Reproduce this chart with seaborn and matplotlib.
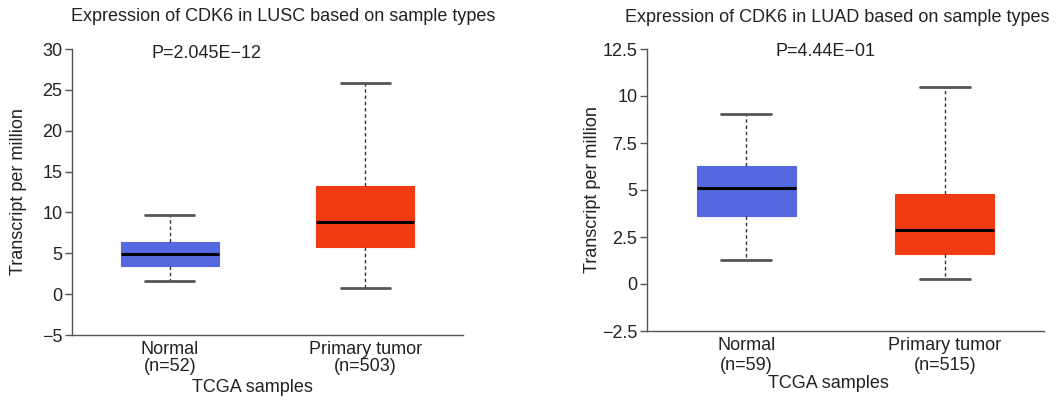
import matplotlib
matplotlib.use("Agg")
import matplotlib.pyplot as plt
import seaborn as sns
import pandas as pd

# ---- data (box summary: min, Q1, median, Q3, max) ----
groups = ["Normal", "Primary tumor"]
lusc_normal = [1.63, 3.50, 4.93, 6.33, 9.67]
lusc_tumor = [0.73, 5.75, 8.85, 13.26, 25.8]
luad_normal = [1.26, 3.63, 5.12, 6.26, 9.06]
luad_tumor = [0.27, 1.60, 2.85, 4.80, 10.49]
lusc_n = [52, 503]
luad_n = [59, 515]
lusc_title = "Expression of CDK6 in LUSC based on sample types"
luad_title = "Expression of CDK6 in LUAD based on sample types"
lusc_p = "P=2.045E\u221212"
luad_p = "P=4.44E\u221201"
lusc_yticks = [-5, 0, 5, 10, 15, 20, 25, 30]
lusc_yticklabels = ["\u22125", "0", "5", "10", "15", "20", "25", "30"]
luad_yticks = [-2.5, 0, 2.5, 5, 7.5, 10, 12.5]
luad_yticklabels = ["\u22122.5", "0", "2.5", "5", "7.5", "10", "12.5"]

sns.set_theme(style="ticks")
plt.rcParams["font.family"] = ["Liberation Sans", "DejaVu Sans"]
text_color = "#222222"
FS = 13

fig = plt.figure(figsize=(10.64, 4.01), dpi=100)
ax1 = fig.add_axes([72/1064, 1-335/401, (463-72)/1064, (335-49)/401])
ax2 = fig.add_axes([647/1064, 1-331/401, (1044-647)/1064, (331-49)/401])

palette = {"Normal": "#5468E0", "Primary tumor": "#F03A12"}


def draw(ax, normal, tumor, ns, title, ptxt, yticks, yticklabels, ylim,
         p_x, p_y, title_x, xlabel_x, xlabel_y, tick_ls):
    df = pd.DataFrame({
        "group": [groups[0]] * len(normal) + [groups[1]] * len(tumor),
        "tpm": list(normal) + list(tumor),
    })
    sns.boxplot(data=df, x="group", y="tpm", hue="group", palette=palette,
                order=groups, hue_order=groups, legend=False,
                whis=(0, 100), width=0.5, showfliers=False, ax=ax,
                linewidth=1.0, saturation=1,
                boxprops=dict(linewidth=0.8),
                medianprops=dict(color="black", linewidth=2.2),
                whiskerprops=dict(color="#333333", linewidth=1.0,
                                  linestyle=(0, (2.5, 2))),
                capprops=dict(color="#555555", linewidth=2.0))
    for patch, g in zip(ax.patches, groups):
        patch.set_facecolor(palette[g])
        patch.set_edgecolor(palette[g])
    ax.set_xlim(-0.5, 1.5)
    ax.set_ylim(*ylim)
    ax.set_yticks(yticks)
    ax.set_yticklabels(yticklabels, fontsize=FS, color=text_color)
    ax.set_xticks([0, 1])
    ax.set_xticklabels([f"{g}\n(n={n})" for g, n in zip(groups, ns)],
                       fontsize=FS, color=text_color, linespacing=tick_ls)
    ax.tick_params(axis="x", length=0, pad=4)
    ax.tick_params(axis="y", length=5, width=1, color="#555555", pad=2)
    ax.set_xlabel("")
    ax.set_ylabel("Transcript per million", fontsize=FS, color=text_color)
    ax.yaxis.set_label_coords(-0.116, 0.5)
    for s in ["top", "right"]:
        ax.spines[s].set_visible(False)
    for s in ["left", "bottom"]:
        ax.spines[s].set_color("#555555")
        ax.spines[s].set_linewidth(1.0)
    ax.text(title_x, 1.112, title, transform=ax.transAxes, ha="center",
            va="center", fontsize=FS, color=text_color)
    ax.text(p_x, p_y, ptxt, transform=ax.transAxes, ha="center",
            va="center", fontsize=FS, color=text_color)
    ax.text(xlabel_x, xlabel_y, "TCGA samples", transform=ax.transAxes,
            ha="center", va="center", fontsize=FS, color=text_color)


draw(ax1, lusc_normal, lusc_tumor, lusc_n, lusc_title, lusc_p,
     lusc_yticks, lusc_yticklabels, (-5, 30), 0.343, 0.985, 0.54, 0.462,
     -0.185, 1.0)
draw(ax2, luad_normal, luad_tumor, luad_n, luad_title, luad_p,
     luad_yticks, luad_yticklabels, (-2.5, 12.5), 0.449, 0.99, 0.479, 0.457,
     -0.185, 1.25)

fig.savefig("out.png", dpi=100)
